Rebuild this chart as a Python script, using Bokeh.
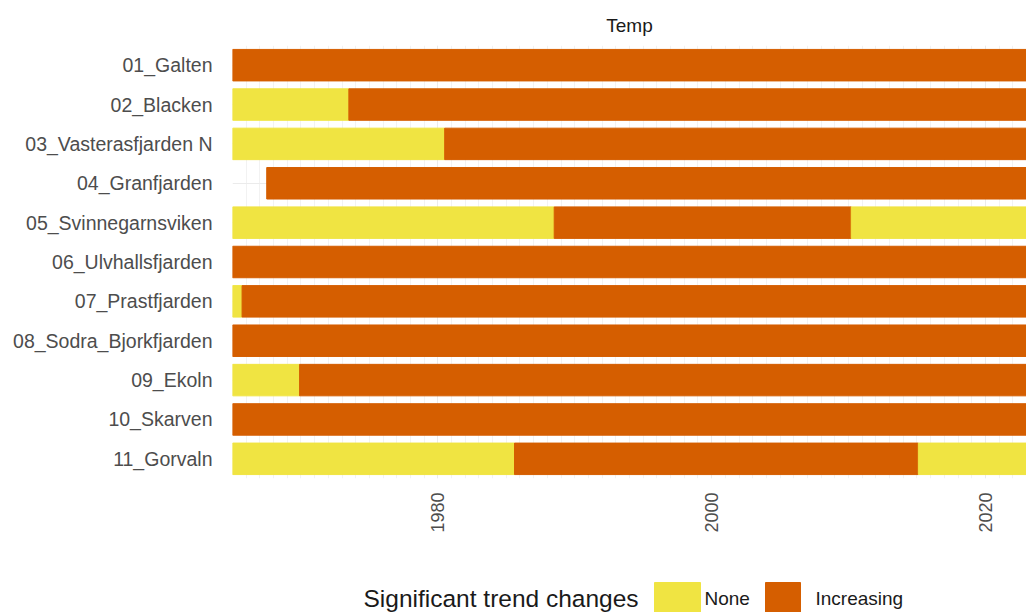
from bokeh.plotting import figure
from bokeh.layouts import column
from bokeh.models import ColumnDataSource, SingleIntervalTicker, Range1d
from bokeh.core.properties import value
from bokeh.embed import file_html
from bokeh.resources import INLINE
import math

stations = ["01_Galten", "02_Blacken", "03_Vasterasfjarden N", "04_Granfjarden",
            "05_Svinnegarnsviken", "06_Ulvhallsfjarden", "07_Prastfjarden",
            "08_Sodra_Bjorkfjarden", "09_Ekoln", "10_Skarven", "11_Gorvaln"]

# segments: station, start, end, trend
seg_station = ["01_Galten", "02_Blacken", "02_Blacken", "03_Vasterasfjarden N",
               "03_Vasterasfjarden N", "04_Granfjarden", "05_Svinnegarnsviken",
               "05_Svinnegarnsviken", "05_Svinnegarnsviken", "06_Ulvhallsfjarden",
               "07_Prastfjarden", "07_Prastfjarden", "08_Sodra_Bjorkfjarden",
               "09_Ekoln", "09_Ekoln", "10_Skarven", "11_Gorvaln", "11_Gorvaln", "11_Gorvaln"]
seg_start = [1965, 1965, 1973.5, 1965, 1980.5, 1967.5, 1965, 1988.5, 2010.2, 1965,
             1965, 1965.7, 1965, 1965, 1969.9, 1965, 1965, 1985.6, 2015.1]
seg_end = [2023, 1973.5, 2023, 1980.5, 2023, 2023, 1988.5, 2010.2, 2023, 2023,
           1965.7, 2023, 2023, 1969.9, 2023, 2023, 1985.6, 2015.1, 2023]
seg_trend = ["Increasing", "None", "Increasing", "None", "Increasing", "Increasing",
             "None", "Increasing", "None", "Increasing", "None", "Increasing",
             "Increasing", "None", "Increasing", "Increasing", "None", "Increasing", "None"]

colors = {"None": "#F0E442", "Increasing": "#D55E00"}
label_color = "#4d4d4d"

src = ColumnDataSource(dict(
    station=seg_station, start=seg_start, end=seg_end,
    color=[colors[t] for t in seg_trend]))

p = figure(width=1026, height=560, y_range=list(reversed(stations)),
           x_range=Range1d(1965, 2023), output_backend="svg", toolbar_location=None,
           title="Temp", min_border_left=232, min_border_right=0,
           min_border_top=45, min_border_bottom=82)
p.hbar(y="station", left="start", right="end", height=0.8, color="color", source=src)

p.title.align = "center"
p.title.text_font = "Liberation Sans"
p.title.text_font_size = "19px"
p.title.text_font_style = "normal"
p.title.text_color = "#1a1a1a"
p.title.standoff = 20

p.xaxis.ticker = SingleIntervalTicker(interval=20, num_minor_ticks=20)
p.xaxis.major_label_orientation = math.pi / 2
for ax in (p.xaxis, p.yaxis):
    ax.axis_line_color = None
    ax.major_tick_line_color = None
    ax.minor_tick_line_color = None
    ax.major_label_text_font = "Liberation Sans"
    ax.major_label_text_color = label_color
p.yaxis.major_label_text_font_size = "19.5px"
p.xaxis.major_label_text_font_size = "18px"
p.xaxis.major_label_standoff = 8
p.yaxis.major_label_standoff = 14
p.xgrid.grid_line_color = "#ebebeb"
p.xgrid.minor_grid_line_color = "#f2f2f2"
p.ygrid.grid_line_color = "#ebebeb"
p.outline_line_color = None

# legend strip (frame aligned with the main plot, x in page pixels)
lg = figure(width=1026, height=52, x_range=Range1d(232, 1026), y_range=Range1d(52, 0),
            output_backend="svg", toolbar_location=None, min_border=0, min_border_left=232)
lg.axis.visible = False
lg.grid.visible = False
lg.outline_line_color = None
lg.text(x=[363], y=[38], text=["Significant trend changes"], text_font=value("Liberation Sans"),
        text_font_size="24.5px", text_baseline="middle", text_color="#1a1a1a")
lg.quad(left=[654, 765], right=[700, 800], top=[22, 22], bottom=[56, 56],
        color=[colors["None"], colors["Increasing"]])
lg.text(x=[704, 815], y=[38, 38], text=["None", "Increasing"], text_font=value("Liberation Sans"),
        text_font_size="19px", text_baseline="middle", text_color="#1a1a1a")

layout = column(p, lg, spacing=0)
open("out.html", "w").write(file_html(layout, INLINE))
